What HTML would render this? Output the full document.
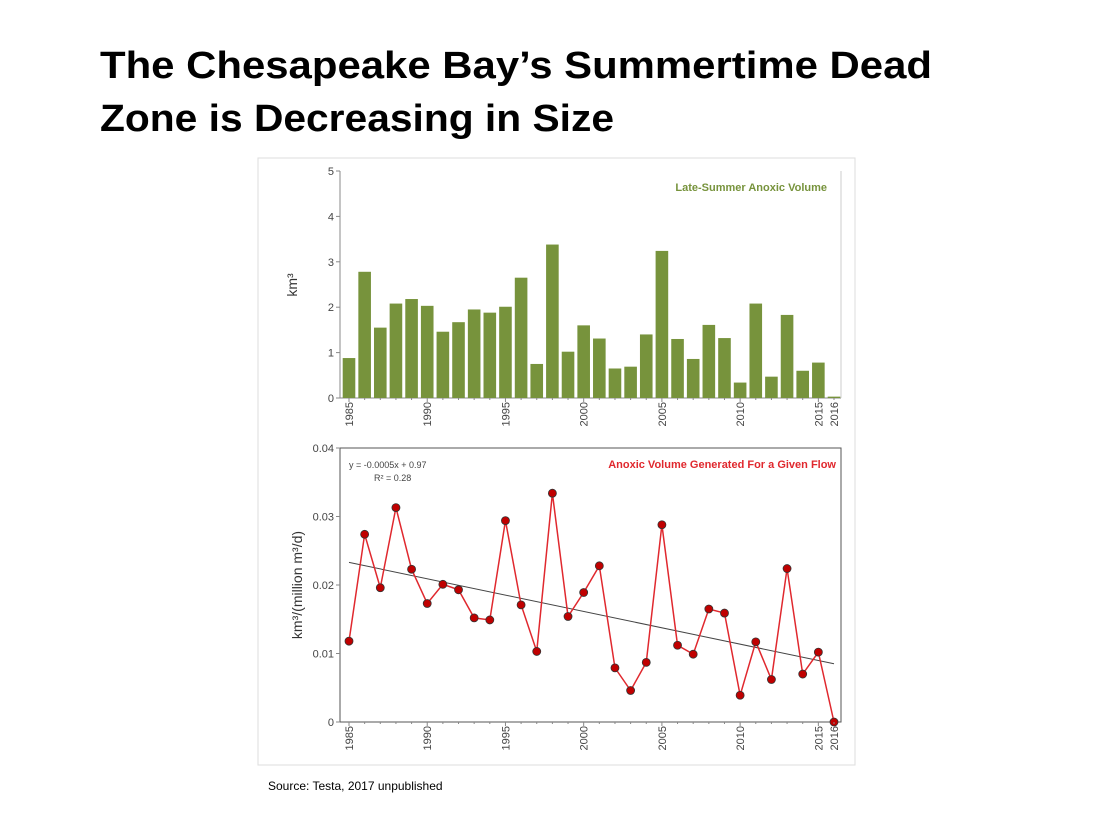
<!DOCTYPE html>
<html><head><meta charset="utf-8"><style>
body{margin:0;background:#fff;width:1100px;height:825px;overflow:hidden}
svg{display:block;font-family:"Liberation Sans",sans-serif}
</style></head><body>
<svg id="s" width="1100" height="825" viewBox="0 0 1100 825">
<text x="100" y="78" font-size="38" font-weight="bold" textLength="832" lengthAdjust="spacingAndGlyphs">The Chesapeake Bay’s Summertime Dead</text>
<text x="100" y="131" font-size="38" font-weight="bold" textLength="514" lengthAdjust="spacingAndGlyphs">Zone is Decreasing in Size</text>
<rect x="258" y="158" width="597" height="607" fill="none" stroke="#ddd"/>
<text x="268" y="790" font-size="12">Source: Testa, 2017 unpublished</text>
<g id="topchart"></g>
<g id="botchart"></g>
</svg>
<script>
const years=[1985,1986,1987,1988,1989,1990,1991,1992,1993,1994,1995,1996,1997,1998,1999,2000,2001,2002,2003,2004,2005,2006,2007,2008,2009,2010,2011,2012,2013,2014,2015,2016];
const volume=[0.88,2.78,1.55,2.08,2.18,2.03,1.46,1.67,1.95,1.88,2.01,2.65,0.75,3.38,1.02,1.6,1.31,0.65,0.69,1.4,3.24,1.3,0.86,1.61,1.32,0.34,2.08,0.47,1.83,0.6,0.78,0.03];
const ratio=[0.0118,0.0274,0.0196,0.0313,0.0223,0.0173,0.0201,0.0193,0.0152,0.0149,0.0294,0.0171,0.0103,0.0334,0.0154,0.0189,0.0228,0.0079,0.0046,0.0087,0.0288,0.0112,0.0099,0.0165,0.0159,0.0039,0.0117,0.0062,0.0224,0.007,0.0102,0.0];
const trendEnds=[0.0233,0.0085];
const yTicksTop=[0,1,2,3,4,5];
const yTicksBot=[0,0.01,0.02,0.03,0.04];
const yTickLabelsBot=["0","0.01","0.02","0.03","0.04"];
const xLabels=[1985,1990,1995,2000,2005,2010,2015,2016];
const NS="http://www.w3.org/2000/svg";
function mk(p,t,a,txt){const e=document.createElementNS(NS,t);for(const k in a)e.setAttribute(k,a[k]);if(txt!=null)e.textContent=txt;p.appendChild(e);return e;}
const X=y=>349+(y-1985)*(834-349)/31;
const Yt=v=>398-v*(398-171)/5;
const Yb=v=>722-v*(722-448)/0.04;
const gTop=document.getElementById('topchart'),gBot=document.getElementById('botchart');
let e=mk(gTop,'line',{x1:340,y1:171,x2:340,y2:398,stroke:'#888'});


e=mk(gTop,'line',{x1:340,y1:398,x2:841,y2:398,stroke:'#888'});


e=mk(gTop,'line',{x1:841,y1:171,x2:841,y2:398,stroke:'#ccc'});


yTicksTop.forEach(v=>{mk(gTop,'line',{x1:336,y1:Yt(v),x2:340,y2:Yt(v),stroke:'#888'});
 e=mk(gTop,'text',{x:334,y:Yt(v)+4,'font-size':11,'text-anchor':'end',fill:'#444'},String(v));
 
 });
volume.forEach((v,i)=>{const x=X(years[i]);
 e=mk(gTop,'rect',{x:x-6.3,y:Yt(v),width:12.6,height:398-Yt(v),fill:'#77933c'});
 
 });
e=mk(gTop,'text',{x:297,y:285,'font-size':14,fill:'#333',transform:'rotate(-90 297 285)','text-anchor':'middle'},'km³');


e=mk(gTop,'text',{x:827,y:191,'font-size':11,'font-weight':'bold','text-anchor':'end',fill:'#77933c'},'Late-Summer Anoxic Volume');


e=mk(gBot,'rect',{x:340,y:448,width:501,height:274,fill:'none',stroke:'#555'});


yTicksBot.forEach((v,i)=>{mk(gBot,'line',{x1:336,y1:Yb(v),x2:340,y2:Yb(v),stroke:'#888'});
 e=mk(gBot,'text',{x:334,y:Yb(v)+4,'font-size':11,'text-anchor':'end',fill:'#444'},yTickLabelsBot[i]);
 
 });
e=mk(gBot,'text',{x:302,y:585,'font-size':14,fill:'#333',transform:'rotate(-90 302 585)','text-anchor':'middle'},'km³/(million m³/d)');


e=mk(gBot,'line',{x1:X(1985),y1:Yb(trendEnds[0]),x2:X(2016),y2:Yb(trendEnds[1]),stroke:'#444','stroke-width':1});


e=mk(gBot,'polyline',{points:ratio.map((v,i)=>X(years[i])+','+Yb(v)).join(' '),fill:'none',stroke:'#e0282e','stroke-width':1.5});


ratio.forEach((v,i)=>{e=mk(gBot,'circle',{cx:X(years[i]),cy:Yb(v),r:4,fill:'#c00000',stroke:'#333','stroke-width':0.8});
 
 });
e=mk(gBot,'text',{x:349,y:468,'font-size':9,fill:'#444'},'y = -0.0005x + 0.97');


e=mk(gBot,'text',{x:374,y:481,'font-size':9,fill:'#444'},'R² = 0.28');


e=mk(gBot,'text',{x:836,y:468,'font-size':11,'font-weight':'bold','text-anchor':'end',fill:'#e0282e'},'Anoxic Volume Generated For a Given Flow');


[[gTop,398],[gBot,722]].forEach(([g,y0])=>{
 years.forEach(y=>mk(g,'line',{x1:X(y),y1:y0,x2:X(y),y2:y0+(y%5==0?4:2),stroke:'#888'}));
 xLabels.forEach(y=>{const x=X(y)+4;
  e=mk(g,'text',{x:x,y:y0+4,'font-size':11,fill:'#444','text-anchor':'end',transform:`rotate(-90 ${x} ${y0+4})`},String(y));
  
  });
});
</script>
</body></html>
